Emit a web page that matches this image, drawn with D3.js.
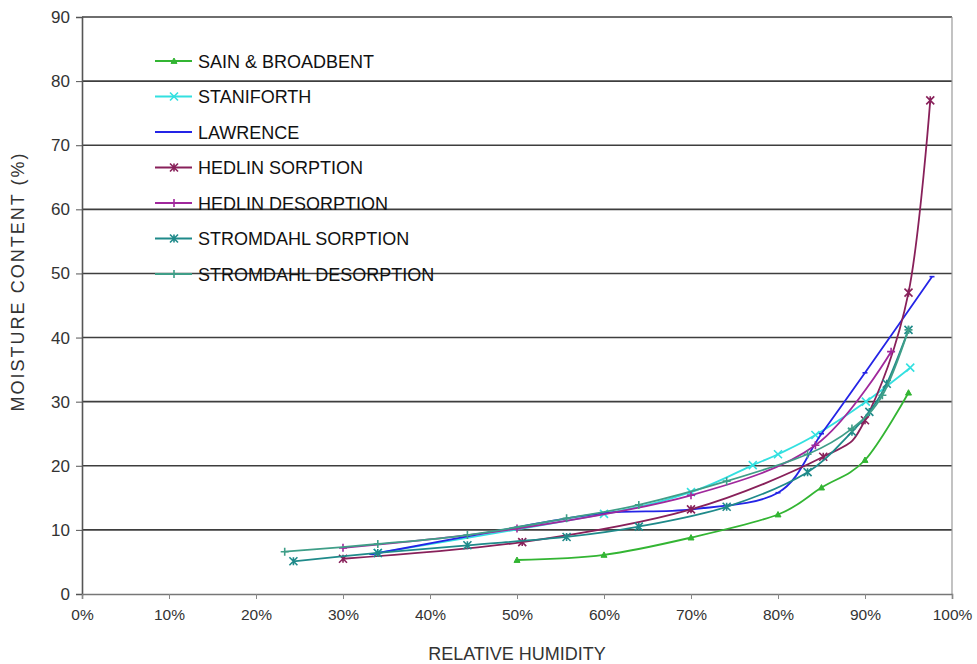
<!DOCTYPE html>
<html>
<head>
<meta charset="utf-8">
<script src="https://cdn.jsdelivr.net/npm/d3@7"></script>
<style>
  html, body { margin: 0; padding: 0; background: #fff; }
  svg text { font-family: "Liberation Sans", Arial, sans-serif; }
</style>
</head>
<body>
<svg id="chart" width="977" height="664"></svg>
<script>
// Equilibrium moisture content vs relative humidity (RH as fraction, MC in %)
const sainRH = [0.50, 0.60, 0.70, 0.80, 0.85, 0.90, 0.95];
const sainMC = [5.3, 6.1, 8.8, 12.4, 16.6, 20.9, 31.4];

const stanRH = [0.34, 0.60, 0.70, 0.771, 0.80, 0.843, 0.901, 0.952];
const stanMC = [6.4, 12.5, 15.9, 20.1, 21.8, 24.8, 30.0, 35.3];

const lawRH = [0.333, 0.50, 0.60, 0.70, 0.80, 0.85, 0.90, 0.977];
const lawMC = [6.2, 10.4, 12.6, 13.2, 15.8, 25.0, 34.5, 49.5];

const hedSorpRH = [0.30, 0.506, 0.70, 0.852, 0.90, 0.95, 0.975];
const hedSorpMC = [5.5, 8.1, 13.2, 21.4, 27.1, 47.0, 77.0];

const hedDesRH = [0.30, 0.50, 0.70, 0.843, 0.93];
const hedDesMC = [7.2, 10.2, 15.4, 23.2, 37.8];

const stroSorpRH = [0.243, 0.34, 0.443, 0.557, 0.64, 0.741, 0.834, 0.885, 0.905, 0.925, 0.95];
const stroSorpMC = [5.1, 6.4, 7.6, 8.9, 10.5, 13.6, 19.0, 25.3, 28.4, 32.8, 41.2];

const stroDesRH = [0.233, 0.34, 0.443, 0.557, 0.64, 0.741, 0.834, 0.885, 0.92, 0.95];
const stroDesMC = [6.6, 7.8, 9.2, 11.8, 13.9, 17.6, 21.8, 25.8, 31.0, 41.2];

const seriesNames = ["SAIN & BROADBENT", "STANIFORTH", "LAWRENCE", "HEDLIN SORPTION",
                     "HEDLIN DESORPTION", "STROMDAHL SORPTION", "STROMDAHL DESORPTION"];
const seriesColors = ["#33b533", "#33e0e0", "#2424e6", "#88205a", "#a0289c", "#1f8a8a", "#3f9e88"];
const seriesMarkers = ["triangle", "x", "dash", "asterisk", "plus", "asterisk", "plus"];

const yTicks = [0, 10, 20, 30, 40, 50, 60, 70, 80, 90];
const xTicks = [0, 0.1, 0.2, 0.3, 0.4, 0.5, 0.6, 0.7, 0.8, 0.9, 1.0];

const seriesData = [
  [sainRH, sainMC], [stanRH, stanMC], [lawRH, lawMC], [hedSorpRH, hedSorpMC],
  [hedDesRH, hedDesMC], [stroSorpRH, stroSorpMC], [stroDesRH, stroDesMC]
].map(([rh, mc]) => rh.map((r, i) => ({ rh: r, mc: mc[i] })));

const svg = d3.select("#chart");
const L = 82, R = 952, T = 17, B = 594;

const x = d3.scaleLinear().domain([0, 1]).range([L, R]);
const y = d3.scaleLinear().domain([0, 90]).range([B, T]);

// horizontal gridlines
svg.append("g").selectAll("line").data(yTicks.filter(v => v > 0)).join("line")
  .attr("x1", L).attr("x2", R)
  .attr("y1", d => y(d)).attr("y2", d => y(d))
  .attr("stroke", "#3e3e3e").attr("stroke-width", 1.6);

// right border
svg.append("line").attr("x1", R).attr("x2", R).attr("y1", T).attr("y2", B)
  .attr("stroke", "#9a9a9a").attr("stroke-width", 1.2);

// y axis
const yAxis = d3.axisLeft(y).tickValues(yTicks).tickSize(6).tickPadding(6).tickFormat(d3.format("d"));
const gy = svg.append("g").attr("transform", `translate(${L},0)`).call(yAxis);
gy.select(".domain").attr("stroke", "#555").attr("stroke-width", 1.6);
gy.selectAll(".tick line").attr("stroke", "#555");
gy.selectAll("text").attr("font-size", 17).attr("fill", "#333");

// x axis
const xAxis = d3.axisBottom(x).tickValues(xTicks).tickSize(5).tickPadding(10).tickFormat(d3.format(".0%"));
const gx = svg.append("g").attr("transform", `translate(0,${B})`).call(xAxis);
gx.select(".domain").attr("stroke", "#777").attr("stroke-width", 1.6);
gx.selectAll(".tick line").attr("stroke", "#888");
gx.selectAll("text").attr("font-size", 15.5).attr("fill", "#333");

// axis titles
svg.append("text").attr("x", 517).attr("y", 660).attr("text-anchor", "middle")
  .attr("font-size", 18).attr("fill", "#333").text("RELATIVE HUMIDITY");
svg.append("text").attr("transform", `translate(24,${(T + B) / 2 - 23}) rotate(-90)`)
  .attr("text-anchor", "middle").attr("font-size", 18).attr("fill", "#333")
  .attr("textLength", 258).attr("lengthAdjust", "spacing")
  .text("MOISTURE CONTENT (%)");

// marker shapes
function markerPath(kind, s) {
  switch (kind) {
    case "triangle": return `M0,${-s}L${s},${s * 0.8}L${-s},${s * 0.8}Z`;
    case "x": return `M${-s},${-s}L${s},${s}M${-s},${s}L${s},${-s}`;
    case "plus": return `M${-s},0L${s},0M0,${-s}L0,${s}`;
    case "dash": return `M${-s},0L${s},0`;
    case "asterisk": return `M${-s},${-s}L${s},${s}M${-s},${s}L${s},${-s}M0,${-s}L0,${s}`;
  }
}
function drawMarker(sel, kind, color) {
  const s = kind === "triangle" ? 3 : kind === "dash" ? 2.5 : 4;
  sel.append("path").attr("d", markerPath(kind, s))
    .attr("fill", kind === "triangle" ? color : "none")
    .attr("stroke", color).attr("stroke-width", kind === "triangle" ? 1 : 1.6);
}

const line = d3.line().x(d => x(d.rh)).y(d => y(d.mc)).curve(d3.curveCardinal.tension(0));

const plot = svg.append("g");
seriesData.forEach((data, i) => {
  const g = plot.append("g");
  g.append("path").datum(data).attr("d", line)
    .attr("fill", "none").attr("stroke", seriesColors[i]).attr("stroke-width", 1.8);
  data.forEach(d => {
    const m = g.append("g").attr("transform", `translate(${x(d.rh)},${y(d.mc)})`);
    drawMarker(m, seriesMarkers[i], seriesColors[i]);
  });
});

// legend
const legend = svg.append("g").attr("transform", "translate(155,61)");
seriesNames.forEach((name, i) => {
  const row = legend.append("g").attr("transform", `translate(0,${i * 35.5})`);
  row.append("line").attr("x1", 0).attr("x2", 37).attr("y1", 0).attr("y2", 0)
    .attr("stroke", seriesColors[i]).attr("stroke-width", 1.8);
  const m = row.append("g").attr("transform", "translate(19,0)");
  drawMarker(m, seriesMarkers[i], seriesColors[i]);
  row.append("text").attr("x", 43).attr("y", 6.5).attr("font-size", 18)
    .attr("fill", "#111").text(name);
});
</script>
</body>
</html>
